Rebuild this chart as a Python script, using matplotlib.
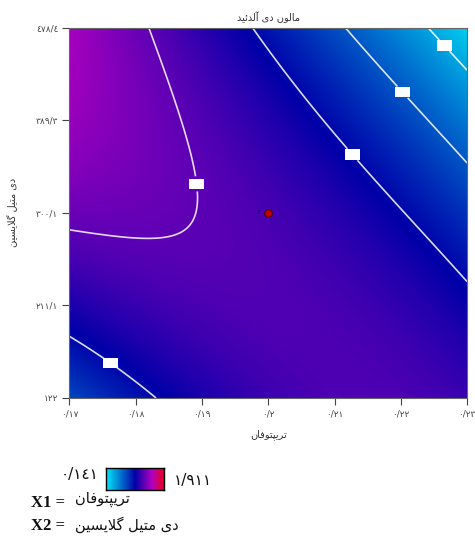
import numpy as np
import matplotlib.pyplot as plt
from matplotlib.colors import LinearSegmentedColormap

# factor ranges (actual units)
x1_range = [0.17, 0.23]
x2_range = [122.0, 478.4]

# response model in coded units
# terms: 1, A, B, AB, A^2, B^2, A^2B, AB^2, A^3, B^3
coef = [1.2338, -0.2332, -0.1323, -0.4239, -0.1471, -0.1595,
        0.0744, 0.0389, -0.0155, 0.0091]

z_min, z_max = 0.141, 1.911
contour_levels = [0.4, 0.7, 1.0, 1.3]
label_pos = [(0.2270, 463.5), (0.2203, 416.4), (0.2128, 356.7),
             (0.1902, 328.8), (0.1763, 156.6)]

design_x = [0.2]
design_y = [300.1]

x_ticks = [0.17, 0.18, 0.19, 0.20, 0.21, 0.22, 0.23]
x_tick_labels = ['٠/١٧', '٠/١٨', '٠/١٩', '٠/٢', '٠/٢١', '٠/٢٢', '٠/٢٣']
y_ticks = [122.0, 211.1, 300.1, 389.3, 478.4]
y_tick_labels = ['١٢٢', '٢١١/١', '٣٠٠/١', '٣٨٩/٣', '٤٧٨/٤']

# persian strings written in visual (presentation form) order
title_txt = 'ﺪﻴﺋﺪﻟﺁ ﻯﺩ ﻥﻮﻟﺎﻣ'
xlab_txt = 'ﻥﺎﻓﻮﺘ\ufb59ﻳﺮﺗ'
ylab_txt = 'ﻦﻴﺴﻳﻼ\ufb94 ﻞﻴﺘﻣ ﻯﺩ'

cmap = LinearSegmentedColormap.from_list(
    'de', [(0.0, '#00e8f8'), (0.5, '#0000a8'), (0.8, '#b400c0'), (1.0, '#e8001c')])

x1 = np.linspace(x1_range[0], x1_range[1], 300)
x2 = np.linspace(x2_range[0], x2_range[1], 300)
X1, X2 = np.meshgrid(x1, x2)
u = (X1 - 0.2) / 0.03
v = (X2 - 300.2) / 178.2
terms = [np.ones_like(u), u, v, u * v, u**2, v**2,
         u**2 * v, u * v**2, u**3, v**3]
Z = sum(c * t for c, t in zip(coef, terms))

fig = plt.figure(figsize=(4.75, 5.4), dpi=100)
ax = fig.add_axes([0.1463, 0.263, 0.837, 0.686])

ax.imshow(Z, extent=[x1_range[0], x1_range[1], x2_range[0], x2_range[1]],
          origin='lower', aspect='auto', cmap=cmap, vmin=z_min, vmax=z_max,
          interpolation='bilinear')
cs = ax.contour(X1, X2, Z, levels=contour_levels, colors='white',
                linewidths=1.2, alpha=0.85)
labels = ax.clabel(cs, fmt='%.1f', fontsize=5, colors='white', inline=True,
                   manual=label_pos, inline_spacing=2)
for t in labels:
    t.set_rotation(0)
    t.set_bbox(dict(facecolor='white', edgecolor='none', pad=1.6))

ax.scatter(design_x, design_y, s=30, c='#c00000', edgecolors='#500000',
           linewidths=0.8, zorder=5)
ax.text(design_x[0] - 0.0012, design_y[0], '5', fontsize=4, color='#000060',
        ha='right', va='center', zorder=5)

ax.set_xlim(x1_range)
ax.set_ylim(x2_range)
ax.set_xticks(x_ticks)
ax.set_xticklabels(x_tick_labels)
ax.set_yticks(y_ticks)
ax.set_yticklabels(y_tick_labels)
ax.tick_params(direction='out', length=5, width=0.8, colors='#444444',
               labelsize=6.5, pad=3)
for s in ax.spines.values():
    s.set_color('#666666')
    s.set_linewidth(0.8)

ax.set_title(title_txt, fontsize=7, color='#333333', pad=5)
ax.set_xlabel(xlab_txt, fontsize=7, color='#333333', labelpad=8)
ax.set_ylabel(ylab_txt, fontsize=7, color='#333333')
ax.yaxis.set_label_coords(-0.13, 0.5)

# legend block
cax = fig.add_axes([0.223, 0.0926, 0.122, 0.041])
cax.imshow(np.linspace(0, 1, 200).reshape(1, -1), cmap=cmap, aspect='auto')
cax.set_xticks([])
cax.set_yticks([])
for s in cax.spines.values():
    s.set_color('black')
    s.set_linewidth(1.0)

fig.text(0.208, 0.122, '٠/١٤١', fontsize=11, ha='right', va='center', color='#111111')
fig.text(0.366, 0.111, '١/٩١١', fontsize=11, ha='left', va='center', color='#111111')
fig.text(0.066, 0.069, 'X1 =', fontsize=12, family='Liberation Serif', weight='bold',
         ha='left', va='center', color='#111111')
fig.text(0.158, 0.076, xlab_txt, fontsize=10.5, ha='left', va='center', color='#111111')
fig.text(0.066, 0.026, 'X2 =', fontsize=12, family='Liberation Serif', weight='bold',
         ha='left', va='center', color='#111111')
fig.text(0.158, 0.029, ylab_txt, fontsize=10.5, ha='left', va='center', color='#111111')

fig.savefig('out.png', dpi=100)
